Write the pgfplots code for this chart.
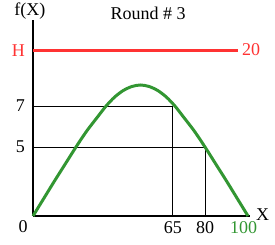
\documentclass[border=0pt]{standalone}
\usepackage{fontspec}
\setmainfont{Liberation Serif}
\usepackage{pgfplots}
\pgfplotsset{compat=1.18}
\definecolor{cgreen}{RGB}{50,150,50}
\definecolor{cred}{RGB}{255,50,50}
\newcommand{\fs}{\fontsize{18bp}{20bp}\selectfont}
\begin{document}
\begin{tikzpicture}
\begin{axis}[
  at={(0,0)}, anchor=origin,
  scale only axis,
  width=217.15bp, height=196bp,
  xmin=0, xmax=101, ymin=0, ymax=196,
  axis lines=left,
  axis line style={-, line width=2.5bp, black},
  clip=false,
  major tick length=0pt,
  xtick={65,80},
  xticklabels={65,80},
  extra x ticks={100},
  extra x tick labels={\textcolor{cgreen}{100}},
  extra x tick style={xticklabel style={xshift=-4.5bp}},
  ytick={69,110,165},
  yticklabels={5,7,\textcolor{cred}{H}},
  /pgf/number format/assume math mode=true,
  tick label style={font=\fs},
  xticklabel style={anchor=center, yshift=-12bp},
  yticklabel style={anchor=east, inner sep=0pt, xshift=-8bp},
]
% guide lines
\addplot[black, line width=0.9bp] coordinates {(0,110) (65,110) (65,0)};
\addplot[black, line width=0.9bp] coordinates {(0,69) (80,69) (80,0)};
% H line
\addplot[cred, line width=3bp] coordinates {(0,165) (95.3,165)};
% curve
\addplot[cgreen, line width=3bp, smooth] coordinates {
(0,0) (5,17.5) (10,35) (15,52) (20,69) (25,85) (30,99) (34,110) (38,119) (42,125.5) (46,129.5) (50,131)
(54,129.5) (58,125.5) (62,119) (66,110) (70,99) (75,85) (80,69) (85,52) (90,35) (95,17.5) (100,0)};
\node[font=\fs, text=cred] at (axis cs:101.4,166) {20};
\node[font=\fs] at (axis cs:106.8,1) {X};
\node[font=\fs] at (axis cs:-4.65,-11) {0};
\node[font=\fs] at (axis cs:-1.4,205) {f(X)};
\node[font=\fs] at (axis cs:53.5,203) {Round \# 3};
\end{axis}
\pgfresetboundingbox
\path[use as bounding box] (-33bp,-29bp) rectangle (242bp,216bp);
\end{tikzpicture}
\end{document}
